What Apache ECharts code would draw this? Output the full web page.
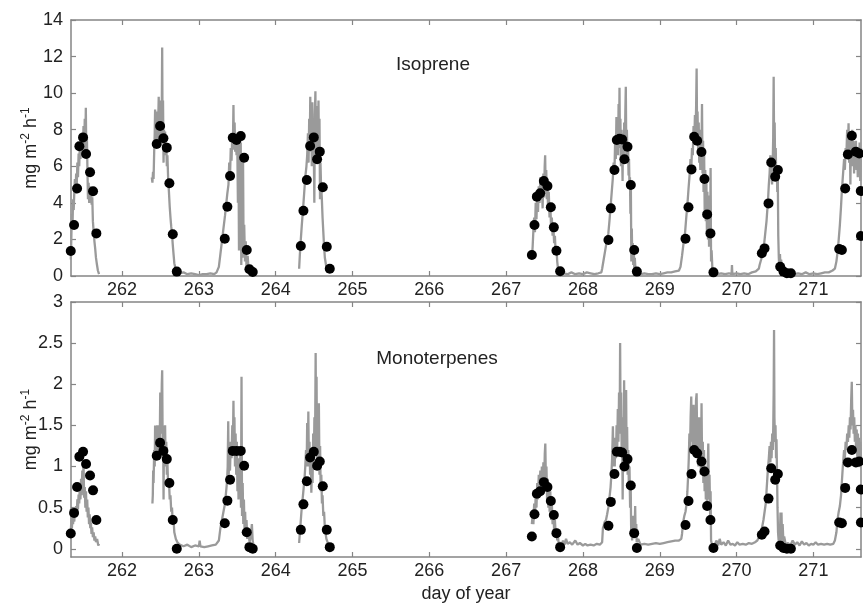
<!DOCTYPE html>
<html>
<head>
<meta charset="utf-8">
<script src="https://cdn.jsdelivr.net/npm/echarts@6/dist/echarts.min.js"></script>
<style>
html,body{margin:0;padding:0;background:#fff;}
#chart{width:863px;height:604px;}
</style>
</head>
<body>
<div id="chart"></div>
<script>
// ---- tick labels / axes ----
var xTicks = [262, 263, 264, 265, 266, 267, 268, 269, 270, 271];
var isoTicks = [0, 2, 4, 6, 8, 10, 12, 14];
var monoTicks = [0, 0.5, 1, 1.5, 2, 2.5, 3];
var panelTitles = ['Isoprene', 'Monoterpenes'];

// ---- modelled (black dots): day of year ----
var modelDays = [
  261.332,261.375,261.414,261.444,261.492,261.531,261.583,261.622,261.665,
  262.451,262.495,262.538,262.582,262.616,262.66,262.712,
  263.337,263.371,263.406,263.441,263.49,263.545,263.589,263.623,263.658,263.701,
  264.327,264.361,264.405,264.448,264.496,264.539,264.574,264.613,264.665,264.704,
  267.335,267.369,267.4,267.443,267.491,267.538,267.582,267.621,267.655,267.703,
  268.332,268.363,268.41,268.441,268.475,268.51,268.54,268.58,268.623,268.667,268.702,
  269.335,269.374,269.413,269.448,269.487,269.543,269.582,269.617,269.66,269.699,
  270.329,270.364,270.416,270.451,270.503,270.538,270.568,270.611,270.655,270.707,
  271.336,271.371,271.414,271.449,271.501,271.553,271.597,271.617,271.619
];
var isoModel = [
  1.37,2.79,4.79,7.1,7.58,6.67,5.67,4.63,2.33,
  7.22,8.2,7.53,7.02,5.07,2.28,0.24,
  2.04,3.79,5.47,7.56,7.44,7.65,6.47,1.42,0.37,0.22,
  1.64,3.57,5.25,7.11,7.58,6.38,6.8,4.85,1.6,0.4,
  1.15,2.79,4.34,4.52,5.19,4.92,3.76,2.66,1.38,0.26,
  1.97,3.7,5.8,7.44,7.51,7.47,6.38,7.07,4.98,1.42,0.24,
  2.04,3.76,5.83,7.62,7.4,6.78,5.3,3.37,2.33,0.2,
  1.24,1.51,3.97,6.21,5.43,5.8,0.51,0.24,0.15,0.15,
  1.48,1.42,4.79,6.65,7.67,6.8,6.7,4.65,2.19
];
var monoModel = [
  0.185,0.436,0.75,1.12,1.18,1.03,0.89,0.71,0.35,
  1.13,1.29,1.19,1.09,0.8,0.35,0.0,
  0.31,0.585,0.84,1.19,1.19,1.19,1.01,0.2,0.02,0.0,
  0.23,0.54,0.82,1.11,1.18,1.01,1.06,0.76,0.23,0.02,
  0.15,0.42,0.67,0.70,0.81,0.75,0.58,0.41,0.19,0.02,
  0.28,0.57,0.91,1.18,1.18,1.17,1.0,1.09,0.77,0.19,0.01,
  0.29,0.58,0.91,1.2,1.16,1.06,0.94,0.52,0.35,0.01,
  0.17,0.21,0.61,0.98,0.84,0.91,0.04,0.01,0.0,0.0,
  0.32,0.31,0.74,1.05,1.2,1.05,1.06,0.72,0.32
];

// ---- measured isoprene flux (grey line), [day, value] ----
var isoObsA = [[261.333,0.9],[261.34,2.2],[261.347,3.4],[261.355,2.8],[261.362,4.2],[261.37,3.6],[261.378,4.6],[261.386,5.3],[261.394,4.5],[261.402,5.6],[261.41,5.0],[261.418,6.2],[261.426,5.4],[261.434,6.7],[261.442,6.0],[261.45,7.2],[261.458,6.4],[261.466,7.5],[261.474,6.8],[261.482,7.7],[261.49,7.0],[261.498,8.2],[261.506,6.9],[261.514,8.6],[261.522,7.2],[261.528,9.2],[261.534,6.8],[261.542,7.6],[261.55,5.6],[261.556,4.2],[261.564,5.1],[261.572,4.0],[261.58,4.9],[261.588,4.2],[261.596,4.6],[261.604,3.9],[261.612,4.3],[261.62,3.0],[261.63,2.4],[261.64,1.9],[261.65,1.5],[261.66,1.0],[261.67,0.7],[261.685,0.3],[261.7,0.1]];
var isoObsB = [[262.387,5.4],[262.395,5.1],[262.403,5.7],[262.41,5.3],[262.418,6.8],[262.425,7.8],[262.43,9.1],[262.436,7.0],[262.443,8.7],[262.45,7.4],[262.457,9.0],[262.464,7.2],[262.47,8.3],[262.477,9.8],[262.484,7.6],[262.49,8.8],[262.497,7.5],[262.503,9.6],[262.51,7.8],[262.517,9.2],[262.522,12.5],[262.527,8.0],[262.533,9.6],[262.54,6.2],[262.546,8.0],[262.553,6.8],[262.56,7.9],[262.567,6.6],[262.575,7.3],[262.583,6.0],[262.59,6.6],[262.6,5.3],[262.61,4.6],[262.62,3.8],[262.63,3.2],[262.64,2.7],[262.65,2.3],[262.66,1.7],[262.67,1.2],[262.68,0.7],[262.69,0.5],[262.7,0.3],[262.72,0.2],[262.75,0.15],[262.8,0.2],[262.85,0.1],[262.9,0.15],[262.95,0.1],[263.0,0.05],[263.05,0.1],[263.1,0.1],[263.15,0.15],[263.2,0.1],
  [263.23,0.2],[263.26,0.5],[263.28,1.2],[263.3,1.9],[263.32,2.6],[263.34,3.3],[263.355,3.9],[263.37,4.5],[263.385,5.0],[263.395,6.2],[263.405,5.4],[263.415,7.0],[263.425,6.3],[263.435,7.8],[263.442,6.9],[263.45,9.35],[263.456,7.2],[263.465,8.4],[263.472,6.8],[263.48,7.6],[263.49,6.6],[263.5,7.2],[263.508,4.0],[263.515,7.3],[263.522,1.4],[263.53,5.2],[263.538,3.0],[263.545,7.3],[263.552,0.6],[263.56,3.5],[263.568,1.0],[263.575,6.3],[263.582,1.3],[263.59,2.8],[263.6,0.8],[263.61,1.9],[263.62,0.5],[263.635,1.1],[263.65,0.2],[263.66,0.1]];
var isoObsC = [[264.305,0.4],[264.315,1.2],[264.327,2.0],[264.34,2.8],[264.355,3.6],[264.37,4.5],[264.385,5.4],[264.4,6.0],[264.41,6.6],[264.42,7.8],[264.428,6.2],[264.436,8.6],[264.443,6.8],[264.45,9.8],[264.457,7.0],[264.464,8.5],[264.47,6.0],[264.477,9.5],[264.484,7.1],[264.49,8.4],[264.497,6.5],[264.503,4.0],[264.51,8.8],[264.517,10.1],[264.523,6.2],[264.53,8.0],[264.537,6.6],[264.543,9.3],[264.55,7.0],[264.557,9.6],[264.563,6.8],[264.57,8.6],[264.577,4.2],[264.583,6.2],[264.59,5.0],[264.6,4.3],[264.61,3.2],[264.62,2.4],[264.63,1.6],[264.64,1.0],[264.655,0.6],[264.67,0.3],[264.69,0.2]];
var isoObsD = [[267.335,1.0],[267.345,1.6],[267.355,2.5],[267.365,3.2],[267.375,2.4],[267.385,4.0],[267.395,3.1],[267.405,4.6],[267.415,3.5],[267.425,4.9],[267.435,4.0],[267.445,5.4],[267.455,4.2],[267.465,5.0],[267.475,3.7],[267.485,5.6],[267.495,4.3],[267.502,6.0],[267.508,6.6],[267.515,4.5],[267.522,5.8],[267.53,4.2],[267.538,5.2],[267.546,3.6],[267.555,4.6],[267.565,3.2],[267.575,4.0],[267.585,2.6],[267.595,3.2],[267.605,2.2],[267.615,2.7],[267.625,1.8],[267.635,2.2],[267.645,1.2],[267.655,1.5],[267.665,0.8],[267.675,0.4],[267.685,0.2],[267.7,0.1],
  [267.75,0.15],[267.8,0.1],[267.85,0.2],[267.9,0.1],[267.95,0.15],[268.0,0.1],[268.05,0.2],[268.1,0.15],[268.15,0.1],[268.2,0.15],[268.24,0.2],
  [268.25,0.4],[268.27,0.9],[268.29,1.4],[268.31,1.9],[268.33,2.3],[268.345,3.0],[268.36,3.8],[268.375,4.6],[268.39,5.4],[268.4,6.2],[268.41,5.6],[268.42,7.6],[268.428,6.4],[268.436,8.7],[268.443,7.0],[268.45,8.2],[268.457,6.6],[268.464,9.4],[268.47,7.4],[268.476,10.3],[268.482,7.0],[268.488,8.6],[268.495,6.0],[268.502,8.0],[268.51,6.6],[268.516,5.2],[268.522,7.8],[268.53,6.2],[268.537,8.4],[268.545,6.8],[268.552,9.0],[268.558,10.35],[268.565,6.5],[268.572,8.0],[268.58,6.2],[268.587,7.2],[268.594,5.5],[268.6,6.4],[268.606,4.8],[268.612,5.4],[268.618,3.4],[268.624,4.8],[268.63,0.8],[268.636,2.6],[268.642,1.0],[268.648,1.8],[268.655,0.6],[268.662,1.5],[268.668,0.4],[268.675,1.0],[268.685,0.3],[268.7,0.15],
  [268.75,0.1],[268.8,0.15],[268.85,0.1],[268.9,0.1],[268.95,0.15],[269.0,0.1],[269.05,0.15],[269.1,0.2],[269.15,0.2],[269.2,0.25],[269.25,0.3],
  [269.27,0.5],[269.29,1.1],[269.31,1.8],[269.33,2.4],[269.345,3.2],[269.36,3.9],[269.375,4.8],[269.39,5.6],[269.4,6.4],[269.41,5.8],[269.42,7.0],[269.43,6.6],[269.44,8.2],[269.45,7.4],[269.458,8.8],[269.466,7.6],[269.474,9.4],[269.48,11.35],[269.486,7.8],[269.492,9.0],[269.5,6.8],[269.507,8.4],[269.514,6.2],[269.52,7.6],[269.528,5.8],[269.535,8.0],[269.542,6.3],[269.55,9.4],[269.557,5.6],[269.564,7.4],[269.57,4.6],[269.578,6.6],[269.585,3.6],[269.592,5.8],[269.6,3.0],[269.607,5.2],[269.614,2.4],[269.62,4.6],[269.628,2.0],[269.635,4.0],[269.642,1.6],[269.65,4.4],[269.656,1.8],[269.662,5.9],[269.668,0.8],[269.675,1.4],[269.685,0.4],[269.7,0.2],
  [269.75,0.1],[269.8,0.15],[269.85,0.1],[269.9,0.15],[269.935,0.1],[269.94,0.6],[269.945,0.1],[270.0,0.15],[270.05,0.1],[270.1,0.15],[270.15,0.1],[270.2,0.2],[270.25,0.25],[270.29,0.4],
  [270.3,0.6],[270.32,0.9],[270.34,1.3],[270.36,1.8],[270.375,2.4],[270.39,3.0],[270.4,3.6],[270.41,4.2],[270.42,5.0],[270.43,5.6],[270.44,6.6],[270.448,5.4],[270.455,6.2],[270.462,5.0],[270.47,6.0],[270.477,7.6],[270.483,10.9],[270.489,7.0],[270.496,8.4],[270.503,5.6],[270.51,7.0],[270.517,5.2],[270.523,6.0],[270.53,4.6],[270.537,5.4],[270.543,2.2],[270.55,1.0],[270.557,0.4],[270.565,1.2],[270.572,0.5],[270.58,0.9],[270.59,0.3],[270.6,0.5],[270.62,0.2],
  [270.65,0.1],[270.7,0.15],[270.75,0.1],[270.8,0.15],[270.85,0.1],[270.9,0.2],[270.95,0.1],[271.0,0.15],[271.05,0.1],[271.1,0.15],[271.15,0.2],[271.2,0.2],[271.25,0.3],[271.28,0.4],
  [271.3,0.8],[271.315,1.3],[271.33,2.0],[271.345,2.8],[271.36,3.8],[271.37,4.6],[271.38,5.2],[271.39,5.8],[271.4,6.4],[271.41,5.8],[271.42,7.0],[271.43,6.6],[271.44,8.0],[271.45,7.0],[271.458,8.35],[271.466,6.2],[271.474,7.6],[271.482,5.0],[271.49,7.8],[271.498,6.4],[271.506,8.0],[271.514,6.0],[271.522,7.4],[271.53,5.6],[271.538,7.2],[271.546,6.0],[271.554,7.4],[271.562,5.8],[271.57,6.8],[271.578,5.4],[271.586,7.0],[271.594,5.6],[271.602,7.3],[271.61,5.2],[271.62,7.0]];

// ---- measured monoterpene flux (grey line), [day, value] ----
var monoObsA = [[261.333,0.22],[261.34,0.35],[261.347,0.25],[261.355,0.42],[261.362,0.3],[261.37,0.45],[261.378,0.33],[261.386,0.5],[261.394,0.38],[261.402,0.52],[261.41,0.42],[261.418,0.6],[261.426,0.48],[261.434,0.66],[261.442,0.55],[261.45,0.78],[261.458,0.6],[261.466,0.85],[261.474,0.65],[261.482,0.95],[261.49,0.7],[261.498,1.04],[261.506,0.62],[261.514,0.75],[261.522,0.5],[261.53,0.7],[261.538,0.45],[261.546,0.6],[261.554,0.38],[261.562,0.5],[261.57,0.3],[261.578,0.42],[261.586,0.25],[261.594,0.32],[261.602,0.18],[261.61,0.26],[261.62,0.14],[261.63,0.2],[261.64,0.1],[261.65,0.15],[261.66,0.08],[261.675,0.12],[261.69,0.04],[261.7,0.06]];
var monoObsB = [[262.395,0.55],[262.4,0.65],[262.405,0.95],[262.41,0.8],[262.418,1.2],[262.425,1.0],[262.43,1.5],[262.437,1.15],[262.444,1.45],[262.45,1.1],[262.457,1.5],[262.464,1.2],[262.47,1.4],[262.477,1.1],[262.484,1.5],[262.49,1.25],[262.497,1.9],[262.503,1.4],[262.51,1.6],[262.517,2.0],[262.522,2.17],[262.528,1.3],[262.534,1.5],[262.54,0.6],[262.546,1.4],[262.553,1.1],[262.56,1.5],[262.567,1.0],[262.575,1.3],[262.583,0.9],[262.59,1.05],[262.6,0.75],[262.61,0.85],[262.62,0.6],[262.63,0.65],[262.64,0.45],[262.65,0.5],[262.66,0.3],[262.67,0.35],[262.68,0.2],[262.69,0.22],[262.7,0.12],[262.72,0.08],[262.75,0.05],[262.8,0.03],[262.85,0.05],[262.9,0.02],[262.95,0.04],[263.0,0.03],[263.01,0.1],[263.02,0.03],[263.07,0.02],[263.12,0.03],[263.17,0.04],[263.22,0.05],
  [263.24,0.03],[263.26,0.1],[263.28,0.25],[263.3,0.35],[263.32,0.45],[263.34,0.55],[263.355,0.7],[263.365,0.8],[263.375,1.0],[263.382,1.55],[263.388,0.9],[263.395,1.1],[263.405,0.95],[263.415,1.3],[263.425,1.1],[263.435,1.5],[263.442,1.2],[263.45,1.8],[263.456,1.3],[263.463,1.6],[263.47,1.0],[263.478,1.4],[263.486,0.9],[263.494,1.3],[263.502,0.7],[263.51,1.1],[263.516,0.6],[263.524,1.0],[263.532,0.7],[263.54,1.2],[263.548,0.5],[263.555,2.09],[263.562,0.4],[263.57,0.8],[263.578,0.3],[263.586,0.6],[263.594,0.25],[263.602,0.45],[263.61,0.2],[263.62,0.35],[263.63,0.12],[263.645,0.2],[263.66,0.08],[263.675,0.15],[263.69,0.3],[263.7,0.1],[263.71,0.05]];
var monoObsC = [[264.305,0.07],[264.315,0.2],[264.325,0.32],[264.335,0.45],[264.345,0.55],[264.355,0.65],[264.365,0.75],[264.375,0.85],[264.385,1.0],[264.395,1.2],[264.403,1.0],[264.41,1.53],[264.418,1.1],[264.425,1.67],[264.432,1.0],[264.44,1.3],[264.448,0.9],[264.456,1.2],[264.464,0.68],[264.472,1.0],[264.48,0.8],[264.488,1.4],[264.496,1.0],[264.504,1.6],[264.512,1.2],[264.52,2.38],[264.526,1.4],[264.532,2.09],[264.538,1.1],[264.546,1.6],[264.554,1.0],[264.562,1.77],[264.57,0.9],[264.578,1.25],[264.586,0.7],[264.594,0.9],[264.602,0.55],[264.61,0.65],[264.62,0.4],[264.63,0.45],[264.64,0.25],[264.65,0.25],[264.66,0.12],[264.675,0.08],[264.69,0.03]];
var monoObsD = [[267.335,0.3],[267.345,0.42],[267.355,0.3],[267.365,0.55],[267.375,0.4],[267.385,0.65],[267.395,0.5],[267.405,0.8],[267.415,0.6],[267.425,0.9],[267.435,0.7],[267.445,0.95],[267.455,0.65],[267.465,1.0],[267.475,0.75],[267.485,1.05],[267.495,0.8],[267.503,1.15],[267.51,1.28],[267.517,0.85],[267.525,1.0],[267.533,0.6],[267.54,0.85],[267.55,0.5],[267.558,0.8],[267.566,0.45],[267.575,0.7],[267.585,0.35],[267.595,0.55],[267.605,0.3],[267.615,0.45],[267.625,0.22],[267.635,0.35],[267.645,0.18],[267.655,0.25],[267.665,0.1],[267.675,0.15],[267.685,0.05],[267.7,0.08],[267.72,0.04],[267.74,0.1],[267.76,0.05],[267.78,0.12],[267.8,0.06],[267.83,0.08],[267.86,0.05],[267.9,0.1],[267.93,0.05],[267.96,0.07],[268.0,0.04],[268.03,0.06],[268.06,0.04],[268.1,0.05],[268.14,0.04],[268.18,0.06],[268.22,0.05],[268.25,0.08],
  [268.26,0.25],[268.27,0.28],[268.28,0.32],[268.3,0.35],[268.315,0.42],[268.33,0.5],[268.345,0.62],[268.36,0.75],[268.37,0.9],[268.38,1.1],[268.39,1.49],[268.398,1.0],[268.406,1.25],[268.414,1.0],[268.422,1.35],[268.43,1.1],[268.438,1.5],[268.446,1.2],[268.454,1.7],[268.462,1.3],[268.47,1.9],[268.478,1.4],[268.484,2.5],[268.49,1.5],[268.497,1.9],[268.504,1.2],[268.51,1.6],[268.517,0.6],[268.524,1.3],[268.53,1.0],[268.536,2.05],[268.543,1.2],[268.55,1.6],[268.556,1.0],[268.562,1.93],[268.568,1.1],[268.575,1.48],[268.582,0.9],[268.59,1.2],[268.598,0.76],[268.606,1.0],[268.614,0.5],[268.622,0.76],[268.628,0.2],[268.634,0.4],[268.64,0.1],[268.648,0.3],[268.656,0.15],[268.664,0.4],[268.672,0.2],[268.68,0.52],[268.686,0.15],[268.694,0.3],[268.7,0.08],[268.72,0.12],[268.75,0.05],[268.8,0.06],[268.85,0.05],[268.9,0.06],[268.95,0.07],[269.0,0.06],[269.05,0.07],[269.1,0.08],[269.15,0.09],[269.2,0.1],[269.25,0.1],[269.28,0.12],
  [269.29,0.18],[269.3,0.28],[269.31,0.35],[269.32,0.4],[269.335,0.45],[269.35,0.55],[269.36,0.7],[269.37,0.9],[269.378,1.1],[269.386,1.4],[269.394,1.2],[269.402,1.6],[269.41,1.85],[269.416,1.3],[269.424,1.6],[269.432,1.2],[269.44,1.75],[269.448,1.3],[269.456,1.6],[269.464,1.2],[269.472,1.8],[269.48,1.89],[269.488,1.2],[269.496,1.55],[269.504,1.0],[269.512,1.6],[269.52,1.1],[269.528,1.45],[269.536,0.9],[269.544,1.77],[269.552,0.9],[269.56,1.3],[269.568,0.8],[269.576,1.2],[269.584,0.7],[269.592,1.0],[269.6,0.6],[269.608,0.9],[269.616,0.55],[269.624,1.0],[269.632,1.28],[269.64,0.6],[269.648,0.9],[269.656,0.4],[269.662,0.7],[269.668,0.1],[269.68,0.05],[269.7,0.04],
  [269.72,0.06],[269.74,0.1],[269.76,0.04],[269.78,0.12],[269.8,0.05],[269.83,0.08],[269.86,0.04],[269.89,0.1],[269.92,0.05],[269.95,0.06],[269.98,0.04],[270.01,0.08],[270.04,0.05],[270.08,0.06],[270.12,0.05],[270.16,0.07],[270.2,0.06],[270.24,0.08],[270.27,0.1],
  [270.29,0.14],[270.31,0.2],[270.33,0.25],[270.35,0.35],[270.365,0.45],[270.38,0.55],[270.39,0.7],[270.4,0.85],[270.41,1.0],[270.42,1.1],[270.43,1.25],[270.44,1.05],[270.448,1.3],[270.456,1.1],[270.464,1.4],[270.472,1.2],[270.478,1.5],[270.483,1.9],[270.488,2.66],[270.493,1.6],[270.5,1.3],[270.507,1.5],[270.514,1.1],[270.52,1.33],[270.527,0.9],[270.533,0.5],[270.54,0.2],[270.548,0.1],[270.556,0.3],[270.564,0.15],[270.572,0.44],[270.578,0.1],[270.585,0.44],[270.592,0.12],[270.6,0.3],[270.61,0.08],[270.62,0.15],[270.64,0.05],
  [270.67,0.07],[270.7,0.04],[270.73,0.1],[270.76,0.05],[270.79,0.08],[270.82,0.04],[270.85,0.09],[270.88,0.05],[270.91,0.07],[270.94,0.04],[270.97,0.06],[271.0,0.05],[271.03,0.08],[271.06,0.05],[271.1,0.06],[271.14,0.05],[271.18,0.06],[271.22,0.05],[271.26,0.06],[271.28,0.1],
  [271.3,0.2],[271.315,0.36],[271.33,0.45],[271.345,0.52],[271.36,0.65],[271.37,0.8],[271.38,0.95],[271.39,1.08],[271.4,1.2],[271.41,1.1],[271.42,1.3],[271.43,1.2],[271.44,1.4],[271.45,1.3],[271.46,1.5],[271.468,1.35],[271.476,1.6],[271.484,1.45],[271.492,1.8],[271.5,2.03],[271.508,1.5],[271.516,1.69],[271.524,1.4],[271.532,1.6],[271.54,1.3],[271.548,1.5],[271.556,1.2],[271.564,1.45],[271.572,1.1],[271.58,1.4],[271.588,1.05],[271.596,1.35],[271.604,1.0],[271.612,1.3],[271.62,1.1]];

// gaps in the measured record
var gapDays = [261.9, 264.0, 266.0];

function joinSegments(segs) {
  var out = [];
  segs.forEach(function (s, i) {
    if (i > 0) out.push([gapDays[i - 1], null]);
    out = out.concat(s);
  });
  return out;
}
function pairs(xs, ys) { return xs.map(function (x, i) { return [x, ys[i]]; }); }

var FONT = "'Liberation Sans', Arial, Helvetica, sans-serif";
var AX = '#858585';
var TXT = '#222';
var xMin = 261.335, xMax = 271.62;

function bottomX(grid, showName) {
  return {
    type: 'value', gridIndex: grid, position: 'bottom', min: xMin, max: xMax,
    axisLine: { show: true, onZero: false, lineStyle: { color: AX, width: 1.5 } },
    axisTick: { show: true, inside: true, length: 5, customValues: xTicks, lineStyle: { color: AX, width: 1.2 } },
    axisLabel: { show: true, customValues: xTicks, margin: 5, fontSize: 18, color: TXT, fontFamily: FONT },
    splitLine: { show: false },
    name: showName ? 'day of year' : '', nameLocation: 'middle', nameGap: 28, nameMoveOverlap: false,
    nameTextStyle: { fontSize: 18, color: TXT, fontFamily: FONT }
  };
}
function topX(grid) {
  return {
    type: 'value', gridIndex: grid, position: 'top', min: xMin, max: xMax,
    axisLine: { show: true, onZero: false, lineStyle: { color: AX, width: 1.5 } },
    axisTick: { show: true, inside: true, length: 5, customValues: xTicks, lineStyle: { color: AX, width: 1.2 } },
    axisLabel: { show: false }, splitLine: { show: false }
  };
}
function leftY(grid, mn, mx, ticks) {
  return {
    type: 'value', gridIndex: grid, position: 'left', min: mn, max: mx,
    axisLine: { show: true, onZero: false, lineStyle: { color: AX, width: 1.5 } },
    axisTick: { show: true, inside: true, length: 5, customValues: ticks, lineStyle: { color: AX, width: 1.2 } },
    axisLabel: { show: true, customValues: ticks, margin: 8, fontSize: 18, color: TXT, fontFamily: FONT },
    splitLine: { show: false },
    name: 'mg m{s|-2} h{s|-1}', nameLocation: 'middle', nameGap: 29, nameRotate: 90, nameMoveOverlap: false,
    nameTextStyle: { fontSize: 18, color: TXT, fontFamily: FONT, lineHeight: 22,
      rich: { s: { fontSize: 12, color: TXT, fontFamily: FONT, verticalAlign: 'top', lineHeight: 12 } } }
  };
}
function rightY(grid, mn, mx, ticks) {
  return {
    type: 'value', gridIndex: grid, position: 'right', min: mn, max: mx,
    axisLine: { show: true, onZero: false, lineStyle: { color: AX, width: 1.5 } },
    axisTick: { show: true, inside: true, length: 5, customValues: ticks, lineStyle: { color: AX, width: 1.2 } },
    axisLabel: { show: false }, splitLine: { show: false }
  };
}

var chart = echarts.init(document.getElementById('chart'), null, { renderer: 'canvas' });
chart.setOption({
  animation: false,
  backgroundColor: '#fff',
  textStyle: { fontFamily: FONT },
  title: [
    { text: panelTitles[0], left: 428, top: 50, textAlign: 'center',
      textStyle: { fontSize: 19, fontWeight: 'normal', color: TXT, fontFamily: FONT } },
    { text: panelTitles[1], left: 432, top: 344, textAlign: 'center',
      textStyle: { fontSize: 19, fontWeight: 'normal', color: TXT, fontFamily: FONT } }
  ],
  grid: [
    { left: 71, top: 20, width: 790, height: 256, containLabel: false },
    { left: 71, top: 302, width: 790, height: 256, containLabel: false }
  ],
  xAxis: [bottomX(0, false), topX(0), bottomX(1, true), topX(1)],
  yAxis: [leftY(0, 0, 14, isoTicks), rightY(0, 0, 14, isoTicks),
          leftY(1, -0.1, 3, monoTicks), rightY(1, -0.1, 3, monoTicks)],
  series: [
    { type: 'line', xAxisIndex: 0, yAxisIndex: 0, showSymbol: false, connectNulls: false, clip: true, z: 2,
      lineStyle: { color: '#9a9a9a', width: 2.3 }, data: joinSegments([isoObsA, isoObsB, isoObsC, isoObsD]) },
    { type: 'scatter', xAxisIndex: 0, yAxisIndex: 0, symbol: 'circle', symbolSize: 10, clip: false, z: 3,
      itemStyle: { color: '#000', opacity: 1 }, data: pairs(modelDays, isoModel) },
    { type: 'line', xAxisIndex: 2, yAxisIndex: 2, showSymbol: false, connectNulls: false, clip: true, z: 2,
      lineStyle: { color: '#9a9a9a', width: 2.3 }, data: joinSegments([monoObsA, monoObsB, monoObsC, monoObsD]) },
    { type: 'scatter', xAxisIndex: 2, yAxisIndex: 2, symbol: 'circle', symbolSize: 10, clip: false, z: 3,
      itemStyle: { color: '#000', opacity: 1 }, data: pairs(modelDays, monoModel) }
  ]
});
</script>
</body>
</html>
